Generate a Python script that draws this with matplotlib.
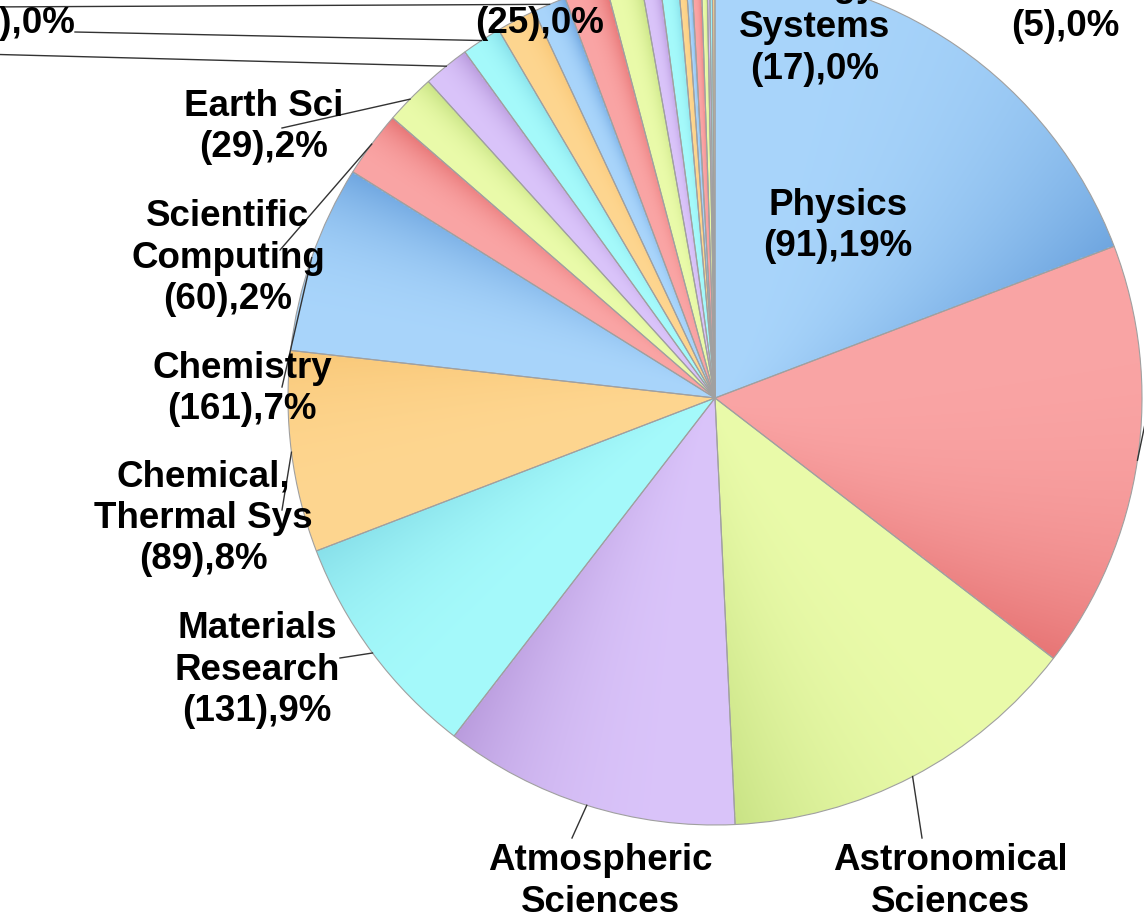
import numpy as np
import matplotlib
matplotlib.use("Agg")
import matplotlib.pyplot as plt
from matplotlib.colors import to_rgb

# share of each slice (percent of the circle), clockwise from 12 o'clock
shares = [19.2, 16.2, 13.8, 11.2, 8.7, 7.6, 7.1, 2.5, 1.9, 1.75, 1.5, 1.5,
          1.25, 1.6, 1.3, 0.7, 0.7, 0.3, 0.22, 0.36, 0.22, 0.1, 0.1, 0.1]
names = ["Physics", "Molecular\nBiosciences", "Astronomical\nSciences",
         "Atmospheric\nSciences", "Materials\nResearch", "Chemical,\nThermal Sys",
         "Chemistry", "Scientific\nComputing", "Earth Sci", "Mathematical\nSciences",
         "Ocean Sciences", "Geophysics", "Computer\nResearch", "Biology",
         None, None, None, "Energy\nSystems", None, None, None, "Social Sci", None, None]
counts = [91, 74, 58, 47, 131, 89, 161, 60, 29, 40, 14, 25, 12, 8,
          None, None, None, 17, None, None, None, 5, None, None]
pcts = [19, 16, 14, 11, 9, 8, 7, 2, 2, 2, 0, 0, 1, 0,
        None, None, None, 0, None, None, None, 0, None, None]

light = ["#a9d5fb", "#faa5a5", "#eafbaa", "#dac4fa", "#a5fafb", "#fed690"]
dark = ["#6fa6e0", "#e77575", "#c9e385", "#b99bdd", "#88e0ea", "#f9c878"]

# picture is a crop of a larger chart: pie centre / radius in pixels
CX, CY, RAD = 715, 398, 427
W, H = 1144, 922


def to_data(px, py):
    return (px - CX) / RAD, (CY - py) / RAD


# label block centre and leader end, in pixels
layout = {
    0: ((838, 226), None),
    1: ((1270, 420), (1150, 400)),
    2: ((950, 902), (922, 838)),
    3: ((600, 902), (572, 838)),
    4: ((257, 670), (340, 658)),
    5: ((203, 518), (282, 510)),
    6: ((242, 389), (282, 387)),
    7: ((228, 258), (280, 250)),
    8: ((264, 127), (282, 128)),
    9: ((-170, 40), (-20, 54)),
    10: ((11, 3), (75, 32)),
    11: ((540, 3), None),
    12: ((-170, -20), (-20, 7)),
    13: ((331, -38), (390, -17)),
    17: ((815, 28), None),
    21: ((1065, 6), None),
}

fig = plt.figure(figsize=(W / 100, H / 100), dpi=100)
ax = fig.add_axes([0, 0, 1, 1])

cols = [light[i % 6] for i in range(len(shares))]
wedges, _ = ax.pie(shares, colors=cols, startangle=90, counterclock=False,
                   radius=1, center=(0, 0),
                   wedgeprops=dict(edgecolor="#a0a0a0", linewidth=0.8))

# shading: each slice darkens towards its clockwise edge, near the rim
g = np.linspace(-1, 1, 500)
X, Y = np.meshgrid(g, g)
R = np.clip(np.hypot(X, Y), 0, 1)
A = np.degrees(np.arctan2(Y, X))
for i, w in enumerate(wedges):
    span = w.theta2 - w.theta1
    t = np.clip(1 - ((A - w.theta1) % 360) / span, 0, 1)
    s = (t ** 3 * R)[..., None]
    c0 = np.array(to_rgb(light[i % 6]))
    c1 = np.array(to_rgb(dark[i % 6]))
    img = c0 * (1 - s) + c1 * s
    im = ax.imshow(img, extent=(-1, 1, -1, 1), origin="lower",
                   interpolation="bilinear", zorder=1.5)
    im.set_clip_path(w)
    w.set_facecolor("none")
    w.set_zorder(3)

for i, w in enumerate(wedges):
    if names[i] is None:
        continue
    (tx, ty), lead = layout[i]
    if lead is not None:
        mid = np.radians((w.theta1 + w.theta2) / 2)
        lx, ly = to_data(*lead)
        ax.plot([np.cos(mid), lx], [np.sin(mid), ly], color="#333333",
                lw=1.0, zorder=4)
    x, y = to_data(tx, ty)
    ax.text(x, y, f"{names[i]}\n({counts[i]}),{pcts[i]}%", ha="center",
            va="center", multialignment="center", fontsize=26.5,
            fontweight="bold", family="Liberation Sans", linespacing=1.24,
            zorder=5)

x0, _ = to_data(0, 0)
x1, _ = to_data(W, 0)
_, y0 = to_data(0, H)
_, y1 = to_data(0, 0)
ax.set_xlim(x0, x1)
ax.set_ylim(y0, y1)
ax.set_aspect("equal")
ax.axis("off")

fig.savefig("out.png", dpi=100)
